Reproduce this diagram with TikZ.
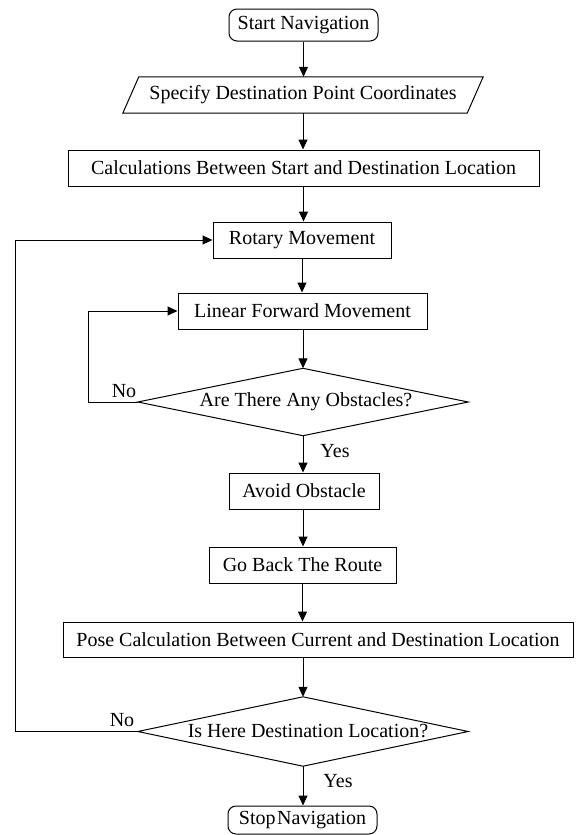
\documentclass[tikz,border=0pt]{standalone}
\usepackage{fontspec}
\setmainfont{Liberation Serif}
\usetikzlibrary{arrows.meta}
\begin{document}
\begin{tikzpicture}[x=1pt,y=-1pt,
  every node/.style={font=\fontsize{20}{24}\selectfont, inner sep=0pt},
  box/.style={draw, line width=1pt, minimum height=36pt},
  term/.style={draw, line width=1pt, rounded corners=8pt},
  outline/.style={line width=1pt},
  flow/.style={line width=1pt, -{Triangle[length=10pt,width=9pt]}}]
\useasboundingbox (0,0) rectangle (576,835);

\node[term, minimum width=149pt, minimum height=32pt] (start) at (303.5,25) {Start Navigation};

\node[minimum width=344pt, minimum height=36pt] (spec) at (303,95) {Specify Destination Point Coordinates};
\draw[outline] ([xshift=-8pt]spec.south west) -- ([xshift=8pt]spec.north west) -- ([xshift=8pt]spec.north east) -- ([xshift=-8pt]spec.south east) -- cycle;

\node[box, minimum width=471pt] (calc) at (303.5,168) {Calculations Between Start and Destination Location};
\node[box, minimum width=178pt] (rot) at (302,240) {Rotary Movement};
\node[box, minimum width=249pt] (lin) at (302.5,311) {Linear Forward Movement};

\node[minimum width=330pt, minimum height=67pt] (obs) at (303,402) {\hspace*{6pt}Are There Any Obstacles?};
\draw[outline] (obs.west) -- (obs.north) -- (obs.east) -- (obs.south) -- cycle;

\node[box, minimum width=150pt] (avoid) at (304,491) {Avoid Obstacle};
\node[box, minimum width=187pt] (back) at (302.5,565) {Go Back The Route};
\node[box, minimum width=510pt, minimum height=35pt] (pose) at (318,639.5) {Pose Calculation Between Current and Destination Location};

\node[minimum width=330pt, minimum height=69pt] (dest) at (303,731.5) {\hspace*{10pt}Is Here Destination Location?};
\draw[outline] (dest.west) -- (dest.north) -- (dest.east) -- (dest.south) -- cycle;

\node[term, minimum width=149pt, minimum height=28pt] (stop) at (302.5,820) {{\spaceskip=0.08em Stop Navigation}};

% main flow
\draw[flow] (start.south) -- (start.south |- spec.north);
\draw[flow] (spec.south) -- (spec.south |- calc.north);
\draw[flow] (calc.south) -- (calc.south |- rot.north);
\draw[flow] (rot.south) -- (rot.south |- lin.north);
\draw[flow] (obs.north |- lin.south) -- (obs.north);
\draw[flow] (obs.south) -- (obs.south |- avoid.north);
\draw[flow] (obs.south |- avoid.south) -- (obs.south |- back.north);
\draw[flow] (back.south) -- (back.south |- pose.north);
\draw[flow] (dest.north |- pose.south) -- (dest.north);
\draw[flow] (dest.south) -- (dest.south |- stop.north);

% loops
\coordinate (c1) at (88,0);
\coordinate (c2) at (15,0);
\draw[flow] (obs.west) -- (c1 |- obs.west) -- (c1 |- lin.west) -- (lin.west);
\draw[flow] (dest.west) -- (c2 |- dest.west) -- (c2 |- rot.west) -- (rot.west);

% labels
\node (no1) at (124,391) {No};
\node (yes1) at (335,451) {Yes};
\node (no2) at (122,720) {No};
\node (yes2) at (338,781) {Yes};
\end{tikzpicture}
\end{document}
